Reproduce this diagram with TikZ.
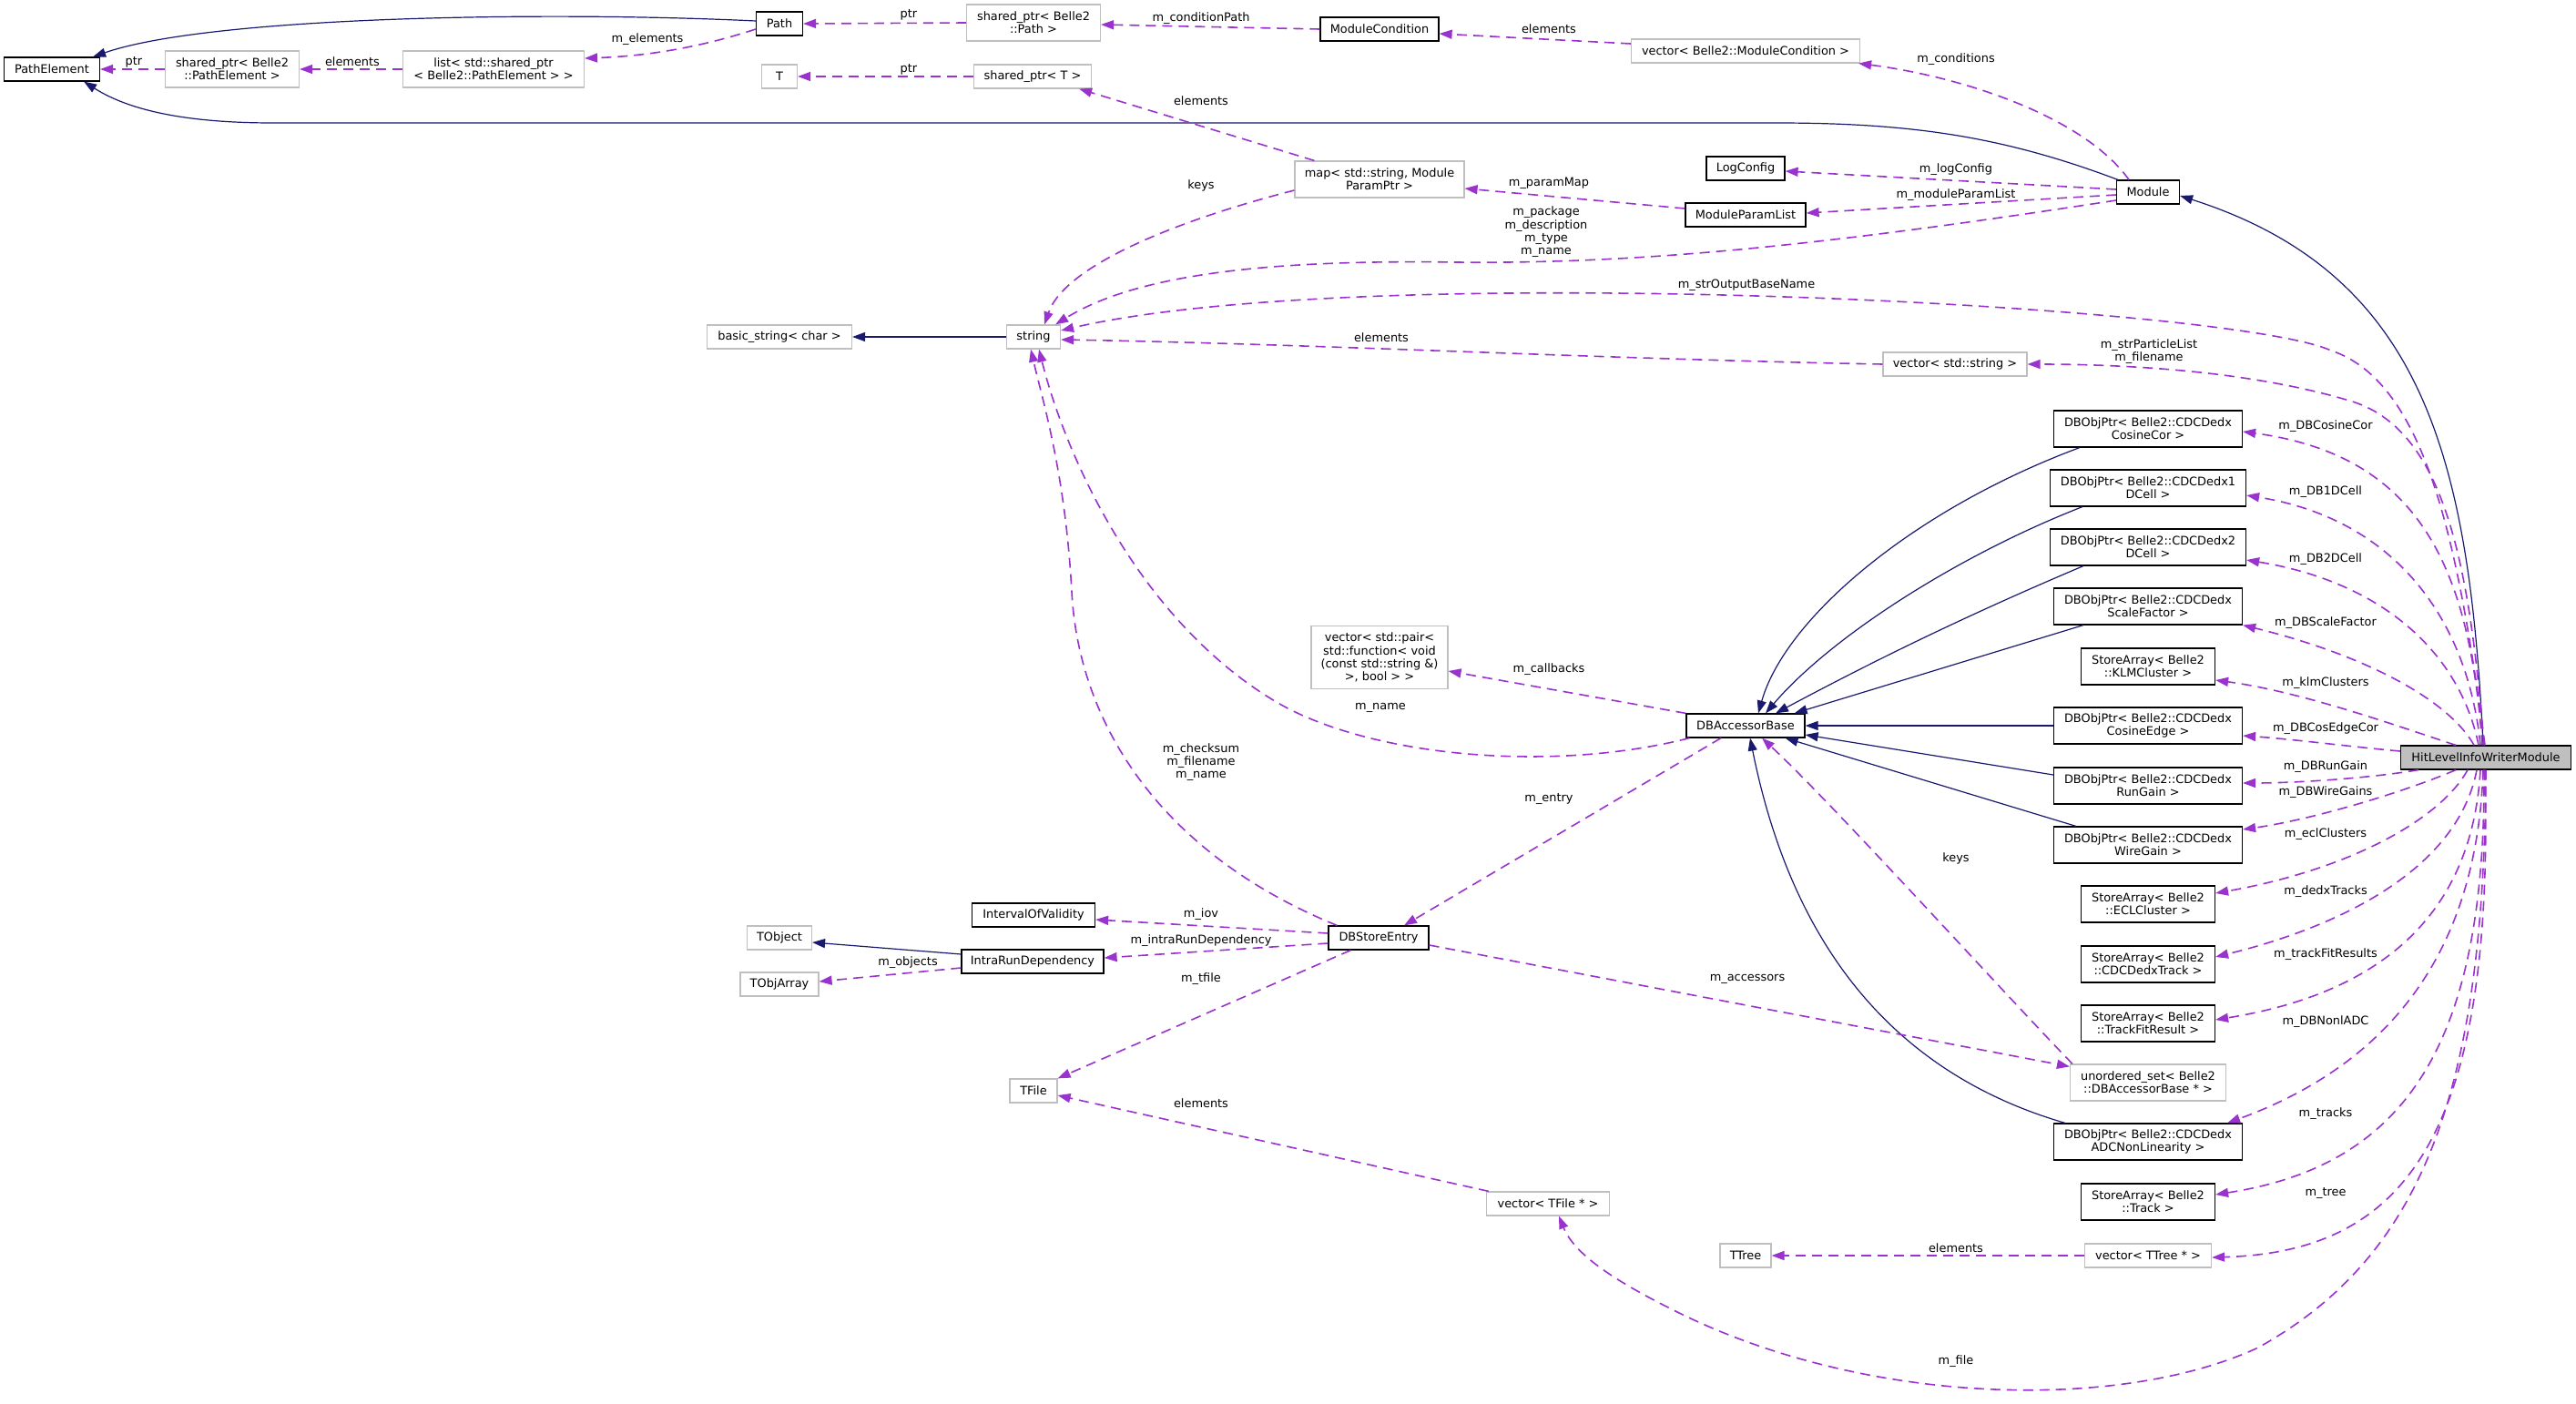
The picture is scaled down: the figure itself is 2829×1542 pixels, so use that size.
\documentclass[tikz,border=0pt]{standalone}
\usepackage{fontspec}
\setmainfont{DejaVu Sans}
\usetikzlibrary{calc,arrows.meta}
\definecolor{depcol}{HTML}{9A32CD}
\definecolor{inhcol}{HTML}{191970}
\definecolor{graybd}{HTML}{BFBFBF}
\tikzset{
 txt/.style={font=\fontsize{6.45}{7.15}\selectfont, align=center, inner sep=0pt},
 bk/.style={txt, draw=black, fill=white, line width=0.6pt, minimum height=13pt},
 gb/.style={txt, draw=graybd, fill=white, line width=0.6pt, minimum height=13pt},
 two/.style={minimum height=20pt},
 lab/.style={txt},
 dep/.style={draw=depcol, line width=0.8pt, dash pattern=on 5.5pt off 3.5pt, -{Triangle[length=7pt,width=5pt,fill=depcol]}},
 inh/.style={draw=inhcol, line width=0.6pt, -{Triangle[length=7pt,width=5pt,fill=inhcol]}},
}
\begin{document}
\begin{tikzpicture}[x=0.5pt,y=-0.5pt]
\fill[white] (0,0) rectangle (2829,1542);
\useasboundingbox (0,0) rectangle (2829,1542);
% nodes
\node[bk, minimum width=52.5pt] (PathElement) at (57,76) {PathElement};
\node[gb, two, minimum width=73.5pt] (spPE) at (255,76) {shared\_ptr< Belle2\\::PathElement >};
\node[gb, two, minimum width=99.5pt] (listSP) at (542,76) {list< std::shared\_ptr\\< Belle2::PathElement > >};
\node[bk, minimum width=25.5pt] (Path) at (856,26) {Path};
\node[gb, minimum width=19.5pt] (T) at (856,84) {T};
\node[gb, minimum width=79.5pt] (basicstr) at (856,370) {basic\_string< char >};
\node[gb, two, minimum width=73.5pt] (spPath) at (1135,25) {shared\_ptr< Belle2\\::Path >};
\node[gb, minimum width=64.5pt] (spT) at (1134,84) {shared\_ptr< T >};
\node[gb, minimum width=29.5pt] (string) at (1135,370) {string};
\node[bk, minimum width=65pt] (ModCond) at (1515,32) {ModuleCondition};
\node[gb, two, minimum width=93pt] (map) at (1515,197) {map< std::string, Module\\ParamPtr >};
\node[gb, minimum width=125.5pt] (vecMC) at (1917,56) {vector< Belle2::ModuleCondition >};
\node[bk, minimum width=43pt] (LogConfig) at (1917,185) {LogConfig};
\node[bk, minimum width=66pt] (MPL) at (1917,236) {ModuleParamList};
\node[bk, minimum width=34.5pt] (Module) at (2359,211) {Module};
\node[gb, minimum width=79pt] (vecStr) at (2147,400) {vector< std::string >};
\node[bk, two, minimum width=103.5pt] (CosCor) at (2359,471) {DBObjPtr< Belle2::CDCDedx\\CosineCor >};
\node[bk, two, minimum width=107.5pt] (DCellA) at (2359,536) {DBObjPtr< Belle2::CDCDedx1\\DCell >};
\node[bk, two, minimum width=107.5pt] (DCellB) at (2359,601) {DBObjPtr< Belle2::CDCDedx2\\DCell >};
\node[bk, two, minimum width=103.5pt] (ScaleF) at (2359,666) {DBObjPtr< Belle2::CDCDedx\\ScaleFactor >};
\node[bk, two, minimum width=73.5pt] (KLM) at (2359,732) {StoreArray< Belle2\\::KLMCluster >};
\node[bk, two, minimum width=103.5pt] (CosEdge) at (2359,797) {DBObjPtr< Belle2::CDCDedx\\CosineEdge >};
\node[bk, two, minimum width=103.5pt] (RunGain) at (2359,863) {DBObjPtr< Belle2::CDCDedx\\RunGain >};
\node[bk, two, minimum width=103.5pt] (WireGain) at (2359,928) {DBObjPtr< Belle2::CDCDedx\\WireGain >};
\node[bk, two, minimum width=73.5pt] (ECL) at (2359,993) {StoreArray< Belle2\\::ECLCluster >};
\node[bk, two, minimum width=73.5pt] (CDCTrack) at (2359,1059) {StoreArray< Belle2\\::CDCDedxTrack >};
\node[bk, two, minimum width=73.5pt] (TFR) at (2359,1124) {StoreArray< Belle2\\::TrackFitResult >};
\node[gb, two, minimum width=85.5pt] (uset) at (2359,1189) {unordered\_set< Belle2\\::DBAccessorBase * >};
\node[bk, two, minimum width=103.5pt] (ADC) at (2359,1254) {DBObjPtr< Belle2::CDCDedx\\ADCNonLinearity >};
\node[bk, two, minimum width=73.5pt] (Track) at (2359,1320) {StoreArray< Belle2\\::Track >};
\node[gb, minimum width=69.5pt] (vecTTree) at (2359,1379) {vector< TTree * >};
\node[txt, draw=black, fill=graybd, line width=0.6pt, minimum height=13pt, minimum width=93.5pt] (HitLevel) at (2730,832) {HitLevelInfoWriterModule};
\node[gb, minimum width=75pt, minimum height=34.5pt] (vecPair) at (1515,722) {vector< std::pair<\\ std::function< void\\ (const std::string \&)\\>, bool > >};
\node[bk, minimum width=65pt] (DBAB) at (1917,797) {DBAccessorBase};
\node[bk, minimum width=55pt] (DBSE) at (1514,1030) {DBStoreEntry};
\node[bk, minimum width=67.5pt] (IoV) at (1135,1005) {IntervalOfValidity};
\node[gb, minimum width=35.5pt] (TObject) at (856,1030) {TObject};
\node[bk, minimum width=78pt] (IRD) at (1134,1056) {IntraRunDependency};
\node[gb, minimum width=43pt] (TObjArray) at (856,1081) {TObjArray};
\node[gb, minimum width=26pt] (TFile) at (1135,1198) {TFile};
\node[gb, minimum width=67.5pt] (vecTFile) at (1700,1322) {vector< TFile * >};
\node[gb, minimum width=28pt] (TTree) at (1917,1379) {TTree};
% inheritance
\draw[inh] ($(Path.west)+(0,-3)$) .. controls (600,12) and (230,18) .. ($(PathElement.north east)+(-8,0)$);
\draw[inh] ($(Module.north west)+(2,0)$) .. controls (2200,150) and (2100,135) .. (1950,135) -- (300,135) .. controls (200,135) and (140,120) .. ($(PathElement.south east)+(-18,0)$);
\draw[inh] ($(HitLevel.north)+(-3,0)$) .. controls (2712,500) and (2660,300) .. ($(Module.east)+(0,4)$);
\draw[inh] ($(IRD.west)+(0,-8)$) -- ($(TObject.east)+(0,5)$);
\draw[inh] (string.west) -- (basicstr.east);
\draw[inh] ($(CosCor.south west)+(29,0)$) .. controls (2100,560) and (1960,680) .. ($(DBAB.north)+(14,0)$);
\draw[inh] ($(DCellA.south west)+(36,0)$) .. controls (2150,610) and (2010,700) .. ($(DBAB.north)+(22,0)$);
\draw[inh] ($(DCellB.south west)+(37,0)$) .. controls (2150,680) and (2050,730) .. ($(DBAB.north)+(33,0)$);
\draw[inh] ($(ScaleF.south west)+(33,0)$) -- ($(DBAB.north east)+(-12,0)$);
\draw[inh] (CosEdge.west) -- (DBAB.east);
\draw[inh] ($(RunGain.west)+(0,-12)$) -- ($(DBAB.east)+(0,10)$);
\draw[inh] ($(WireGain.north west)+(25,0)$) -- ($(DBAB.south east)+(-22,0)$);
\draw[inh] ($(ADC.north west)+(13,0)$) .. controls (2050,1170) and (1960,1000) .. ($(DBAB.south)+(5,0)$);
% usage (dashed)
\draw[dep] (spPE.west) -- (PathElement.east);
\draw[dep] (listSP.west) -- (spPE.east);
\draw[dep] ($(Path.west)+(0,6)$) .. controls (760,55) and (700,62) .. ($(listSP.east)+(0,-12)$);
\draw[dep] (spPath.west) -- (Path.east);
\draw[dep] (spT.west) -- (T.east);
\draw[dep] (ModCond.west) -- ($(spPath.east)+(0,2)$);
\draw[dep] ($(vecMC.west)+(0,-8)$) -- ($(ModCond.east)+(0,5)$);
\draw[dep] ($(Module.north)+(-21,0)$) .. controls (2290,130) and (2160,85) .. ($(vecMC.south east)+(-2,0)$);
\draw[dep] ($(map.north west)+(22,0)$) -- ($(spT.south east)+(-14,0)$);
\draw[dep] ($(MPL.west)+(0,-7)$) -- ($(map.east)+(0,10)$);
\draw[dep] ($(Module.west)+(0,-3)$) -- ($(LogConfig.east)+(0,3)$);
\draw[dep] ($(Module.west)+(0,3)$) -- ($(MPL.east)+(0,-2)$);
\draw[dep] ($(Module.west)+(0,9)$) .. controls (2000,270) and (1800,290) .. (1600,288) .. controls (1400,285) and (1250,300) .. ($(string.north east)+(-6,0)$);
\draw[dep] ($(map.west)+(0,12)$) .. controls (1300,240) and (1170,290) .. ($(string.north)+(12,0)$);
\draw[dep] ($(HitLevel.north)+(-1,0)$) .. controls (2700,600) and (2665,420) .. (2560,385) .. controls (2450,335) and (1500,285) .. ($(string.east)+(0,-7)$);
\draw[dep] ($(HitLevel.north)+(-2,0)$) .. controls (2712,620) and (2685,470) .. (2580,440) .. controls (2480,410) and (2350,400) .. (vecStr.east);
\draw[dep] (vecStr.west) .. controls (1750,394) and (1450,378) .. ($(string.east)+(0,3)$);
\draw[dep] ($(HitLevel.north)+(-4,0)$) .. controls (2712,620) and (2655,500) .. ($(CosCor.east)+(0,3)$);
\draw[dep] ($(HitLevel.north)+(-6,0)$) .. controls (2710,680) and (2630,570) .. ($(DCellA.east)+(0,8)$);
\draw[dep] ($(HitLevel.north)+(-8,0)$) .. controls (2702,720) and (2620,640) .. ($(DCellB.east)+(0,14)$);
\draw[dep] ($(HitLevel.north)+(-13,0)$) .. controls (2690,770) and (2600,720) .. (ScaleF.south east);
\draw[dep] ($(HitLevel.north)+(-33,0)$) .. controls (2640,800) and (2530,760) .. ($(KLM.east)+(0,15)$);
\draw[dep] ($(HitLevel.west)+(0,-7)$) .. controls (2580,820) and (2520,812) .. ($(CosEdge.east)+(0,11)$);
\draw[dep] ($(HitLevel.south west)+(20,0)$) .. controls (2600,855) and (2520,860) .. ($(RunGain.east)+(0,-3)$);
\draw[dep] ($(HitLevel.south)+(-33,0)$) .. controls (2640,870) and (2540,900) .. ($(WireGain.east)+(0,-17)$);
\draw[dep] ($(HitLevel.south)+(-20,0)$) .. controls (2680,900) and (2580,955) .. ($(ECL.east)+(0,-12)$);
\draw[dep] ($(HitLevel.south)+(-10,0)$) .. controls (2700,950) and (2580,1015) .. ($(CDCTrack.east)+(0,-8)$);
\draw[dep] ($(HitLevel.south)+(-6,0)$) .. controls (2715,1000) and (2620,1090) .. ($(TFR.east)+(0,-4)$);
\draw[dep] ($(HitLevel.south)+(-3,0)$) .. controls (2720,1050) and (2620,1170) .. ($(ADC.north east)+(-17,0)$);
\draw[dep] ($(HitLevel.south)+(-2,0)$) .. controls (2730,1150) and (2640,1280) .. ($(Track.east)+(0,-8)$);
\draw[dep] ($(HitLevel.south)+(-1,0)$) .. controls (2740,1250) and (2640,1375) .. ($(vecTTree.east)+(0,2)$);
\draw[dep] (HitLevel.south) .. controls (2728,1200) and (2660,1380) .. (2480,1480) .. controls (2330,1550) and (2050,1545) .. (1840,1440) .. controls (1780,1410) and (1730,1380) .. ($(vecTFile.south)+(12,0)$);
\draw[dep] (DBAB.north west) -- ($(vecPair.east)+(0,15)$);
\draw[dep] ($(DBAB.south west)+(4,0)$) .. controls (1700,850) and (1500,830) .. (1400,770) .. controls (1250,680) and (1170,500) .. ($(string.south)+(6,0)$);
\draw[dep] ($(DBSE.north west)+(10,0)$) .. controls (1280,940) and (1185,800) .. (1177,650) .. controls (1170,520) and (1145,440) .. ($(string.south)+(-3,0)$);
\draw[dep] ($(DBAB.south)+(-27,0)$) -- ($(DBSE.north)+(28,0)$);
\draw[dep] ($(DBSE.west)+(0,-5)$) -- ($(IoV.east)+(0,5)$);
\draw[dep] ($(DBSE.west)+(0,6)$) -- ($(IRD.east)+(0,-4)$);
\draw[dep] ($(DBSE.south west)+(25,0)$) -- (TFile.north east);
\draw[dep] ($(IRD.west)+(0,7)$) -- ($(TObjArray.east)+(0,-3)$);
\draw[dep] ($(DBSE.east)+(0,8)$) -- ($(uset.north west)+(0,3)$);
\draw[dep] ($(uset.north west)+(3,0)$) .. controls (2200,1090) and (2010,880) .. ($(DBAB.south)+(18,0)$);
\draw[dep] ($(vecTFile.north west)+(3,0)$) -- ($(TFile.east)+(0,5)$);
\draw[dep] (vecTTree.west) -- (TTree.east);
% labels
\node[lab] (l1) at (147,68) {ptr};
\node[lab] (l2) at (387,68) {elements};
\node[lab] (l3) at (711,43) {m\_elements};
\node[lab] (l4) at (998,16) {ptr};
\node[lab] (l5) at (998,76) {ptr};
\node[lab] (l6) at (1319,20) {m\_conditionPath};
\node[lab] (l7) at (1701,32) {elements};
\node[lab] (l8) at (1319,111) {elements};
\node[lab] (l9) at (2148,65) {m\_conditions};
\node[lab] (l10) at (1319,204) {keys};
\node[lab] (l11) at (1701,201) {m\_paramMap};
\node[lab] (l12) at (2148,186) {m\_logConfig};
\node[lab] (l13) at (2148,214) {m\_moduleParamList};
\node[lab] (l14) at (1698,255) {m\_package\\m\_description\\m\_type\\m\_name};
\node[lab] (l15) at (1918,313) {m\_strOutputBaseName};
\node[lab] (l16) at (1517,371) {elements};
\node[lab] (l17) at (2360,386) {m\_strParticleList\\m\_filename};
\node[lab] (l18) at (2554,468) {m\_DBCosineCor};
\node[lab] (l19) at (2554,540) {m\_DB1DCell};
\node[lab] (l20) at (2554,614) {m\_DB2DCell};
\node[lab] (l21) at (2554,684) {m\_DBScaleFactor};
\node[lab] (l22) at (2554,750) {m\_klmClusters};
\node[lab] (l23) at (2554,800) {m\_DBCosEdgeCor};
\node[lab] (l24) at (2554,842) {m\_DBRunGain};
\node[lab] (l25) at (2554,870) {m\_DBWireGains};
\node[lab] (l26) at (2554,916) {m\_eclClusters};
\node[lab] (l27) at (2554,979) {m\_dedxTracks};
\node[lab] (l28) at (2554,1048) {m\_trackFitResults};
\node[lab] (l29) at (2554,1122) {m\_DBNonlADC};
\node[lab] (l30) at (2554,1223) {m\_tracks};
\node[lab] (l31) at (2554,1310) {m\_tree};
\node[lab] (l32) at (2148,1495) {m\_file};
\node[lab] (l33) at (1701,735) {m\_callbacks};
\node[lab] (l34) at (1516,777) {m\_name};
\node[lab] (l35) at (1319,837) {m\_checksum\\m\_filename\\m\_name};
\node[lab] (l36) at (1701,877) {m\_entry};
\node[lab] (l37) at (2148,943) {keys};
\node[lab] (l38) at (1319,1004) {m\_iov};
\node[lab] (l39) at (1319,1033) {m\_intraRunDependency};
\node[lab] (l40) at (1319,1075) {m\_tfile};
\node[lab] (l41) at (1919,1075) {m\_accessors};
\node[lab] (l42) at (997,1057) {m\_objects};
\node[lab] (l43) at (1319,1212) {elements};
\node[lab] (l44) at (2148,1371) {elements};
\end{tikzpicture}
\end{document}
